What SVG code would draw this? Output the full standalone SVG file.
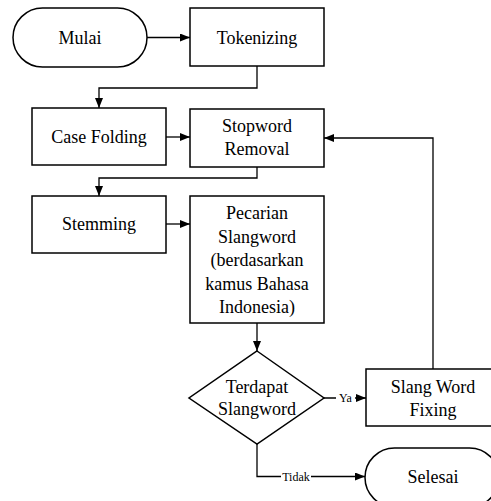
<svg xmlns="http://www.w3.org/2000/svg" width="491" height="501" viewBox="0 0 491 501">
<style>
.s{fill:#fff;stroke:#000;stroke-width:1.5}
.t{font-family:"Liberation Serif","Times New Roman",serif;font-size:18px;fill:#000;text-anchor:middle}
.l{font-family:"Liberation Serif","Times New Roman",serif;font-size:12px;fill:#000;text-anchor:middle}
.c{fill:none;stroke:#000;stroke-width:1.3}
</style>
<defs>
<marker id="a" markerWidth="10" markerHeight="8" refX="10" refY="4" orient="auto" markerUnits="userSpaceOnUse">
<path d="M0,0 L10,4 L0,8 Z" fill="#000"/>
</marker>
</defs>
<g id="connectors">
<path class="c" d="M147,37.5 H190" marker-end="url(#a)"/>
<path class="c" d="M257,66 V88 H99 V108" marker-end="url(#a)"/>
<path class="c" d="M166,137 H190" marker-end="url(#a)"/>
<path class="c" d="M257,167 V178 H99 V196" marker-end="url(#a)"/>
<path class="c" d="M166,224 H190" marker-end="url(#a)"/>
<path class="c" d="M257,323 V351" marker-end="url(#a)"/>
<path class="c" d="M324,398 H366" marker-end="url(#a)"/>
<path class="c" d="M433,369 V138 H324" marker-end="url(#a)"/>
<path class="c" d="M257,444 V476.5 H365" marker-end="url(#a)"/>
<rect x="336" y="391" width="19" height="13" fill="#fff"/>
<text class="l" x="345.5" y="402">Ya</text>
<rect x="281" y="470" width="30" height="13" fill="#fff"/>
<text class="l" x="296" y="481">Tidak</text>
</g>
<g id="mulai">
<rect class="s" x="13" y="8" width="134" height="59" rx="29.5" ry="29.5"/>
<text class="t" x="80" y="44">Mulai</text>
</g>
<g id="tokenizing">
<rect class="s" x="190" y="8" width="134" height="58"/>
<text class="t" x="257" y="44">Tokenizing</text>
</g>
<g id="casefolding">
<rect class="s" x="32" y="108" width="134" height="57"/>
<text class="t" x="99" y="143">Case Folding</text>
</g>
<g id="stopword">
<rect class="s" x="190" y="109" width="134" height="58"/>
<text class="t" x="257" y="132">Stopword</text>
<text class="t" x="257" y="155">Removal</text>
</g>
<g id="stemming">
<rect class="s" x="32" y="196" width="134" height="57"/>
<text class="t" x="99" y="230">Stemming</text>
</g>
<g id="pecarian">
<rect class="s" x="190" y="196" width="134" height="127"/>
<text class="t" x="257" y="219">Pecarian</text>
<text class="t" x="257" y="242.5">Slangword</text>
<text class="t" x="257" y="266">(berdasarkan</text>
<text class="t" x="257" y="289.5">kamus Bahasa</text>
<text class="t" x="257" y="313">Indonesia)</text>
</g>
<g id="terdapat">
<path class="s" d="M257,351 L324,398 L257,444 L189,398 Z"/>
<text class="t" x="257" y="393">Terdapat</text>
<text class="t" x="257" y="415">Slangword</text>
</g>
<g id="fixing">
<rect class="s" x="366" y="369" width="134" height="57"/>
<text class="t" x="433" y="393">Slang Word</text>
<text class="t" x="433" y="416">Fixing</text>
</g>
<g id="selesai">
<rect class="s" x="365" y="448" width="134" height="59" rx="29.5" ry="29.5"/>
<text class="t" x="433" y="483">Selesai</text>
</g>
</svg>
